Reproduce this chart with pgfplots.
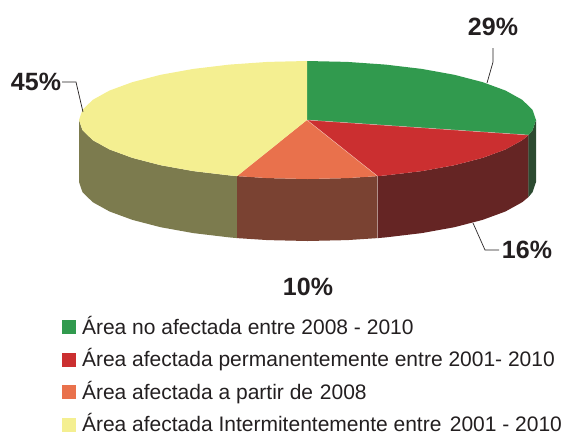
\documentclass[border=0pt]{standalone}
\usepackage{fontspec}
\setmainfont{Liberation Sans}
\usepackage{pgfplots}
\pgfplotsset{compat=1.18}
\definecolor{cG}{HTML}{319A4E}
\definecolor{cR}{HTML}{CB2F30}
\definecolor{cO}{HTML}{E9714C}
\definecolor{cY}{HTML}{F4EF91}
\definecolor{wG}{HTML}{2C4A30}
\definecolor{wR}{HTML}{652524}
\definecolor{wO}{HTML}{7A4232}
\definecolor{wY}{HTML}{7C7B4E}
\definecolor{tx}{HTML}{231F20}
\begin{document}
\begin{tikzpicture}
\useasboundingbox (0,0) rectangle (564pt,432pt);
\begin{axis}[
  scale only axis, width=564pt, height=432pt,
  xmin=0, xmax=564, ymin=0, ymax=432, y dir=reverse,
  hide axis, clip=false,
  legend cell align=left,
  legend image code/.code={\fill[#1,draw=none] (0pt,-8.5pt) rectangle (14pt,5.5pt);\path (20pt,0pt);},
  legend style={at={(axis cs:62,316)}, anchor=north west, draw=none, fill=none,
    inner sep=0pt, outer sep=0pt, font=\fontsize{21}{23}\selectfont, text=tx,
    row sep=12.7pt,
    nodes={inner sep=0pt, outer sep=0pt}},
]
% walls
\addplot[forget plot, fill=wY, draw=none] coordinates {(79,120)(82.5,130.2)(92.8,140.2)(109.6,149.5)(132.5,157.9)(160.6,165.2)(193.3,171.1)(229.4,175.4)(237,176.1)(237,238.1)(229.4,237.4)(193.3,233.1)(160.6,227.2)(132.5,219.9)(109.6,211.5)(92.8,202.2)(82.5,192.2)(79,182)} --cycle;
\addplot[forget plot, fill=wO, draw=none] coordinates {(237,176.1)(267.8,178.1)(307.5,179)(347.2,178.1)(377.5,176.1)(377.5,238.1)(347.2,240.1)(307.5,241)(267.8,240.1)(237,238.1)} --cycle;
\addplot[forget plot, fill=wR, draw=none] coordinates {(377.5,176.1)(385.6,175.4)(421.8,171.1)(454.4,165.2)(482.5,157.9)(505.4,149.5)(522.2,140.2)(528.5,135)(528.5,197)(522.2,202.2)(505.4,211.5)(482.5,219.9)(454.4,227.2)(421.8,233.1)(385.6,237.4)(377.5,238.1)} --cycle;
\addplot[forget plot, fill=wG, draw=none] coordinates {(528.5,135)(532.5,130.2)(536,120)(536,182)(532.5,192.2)(528.5,197)} --cycle;
% tops
\addplot[fill=cG, draw=none] coordinates {(307,120)(307,61)(347.2,61.9)(385.6,64.6)(421.8,68.9)(454.4,74.8)(482.5,82.1)(505.4,90.5)(522.2,99.8)(532.5,109.8)(536,120)(532.5,130.2)(528.5,135)} --cycle;
\addlegendentry{Área no afectada entre 2008 - 2010}
\addplot[fill=cR, draw=none] coordinates {(307,120)(528.5,135)(522.2,140.2)(505.4,149.5)(482.5,157.9)(454.4,165.2)(421.8,171.1)(385.6,175.4)(377.5,176.1)} --cycle;
\addlegendentry{Área afectada permanentemente entre 2001- 2010}
\addplot[fill=cO, draw=none] coordinates {(307,120)(377.5,176.1)(347.2,178.1)(307.5,179)(267.8,178.1)(237,176.1)} --cycle;
\addlegendentry{Área afectada a partir de \hspace{1pt}2008}
\addplot[fill=cY, draw=none] coordinates {(307,120)(237,176.1)(229.4,175.4)(193.3,171.1)(160.6,165.2)(132.5,157.9)(109.6,149.5)(92.8,140.2)(82.5,130.2)(79,120)(82.5,109.8)(92.8,99.8)(109.6,90.5)(132.5,82.1)(160.6,74.8)(193.3,68.9)(229.4,64.6)(267.8,61.9)(307,61)} --cycle;
\addlegendentry{Área afectada Intermitentemente entre \hspace{2.5pt}2001 - 2010}
% thin separators
\addplot[forget plot, draw=white, opacity=0.45, line width=0.5pt] coordinates {(528.5,135)(307,120)(377.5,176.1)(377.5,238.1)};
\addplot[forget plot, draw=wG, opacity=0.4, line width=0.5pt] coordinates {(528.5,135)(528.5,197)};
% leaders
\addplot[forget plot, draw=tx, line width=0.7pt] coordinates {(62,82)(76,82)(83,112)};
\addplot[forget plot, draw=tx, line width=0.7pt] coordinates {(493,48)(493,62)(487,83)};
\addplot[forget plot, draw=tx, line width=0.7pt] coordinates {(473,223)(485,250)(499,250)};
\node[font=\fontsize{25}{25}\bfseries\selectfont, text=tx] at (axis cs:493,27) {29\%};
\node[font=\fontsize{25}{25}\bfseries\selectfont, text=tx] at (axis cs:36,82) {45\%};
\node[font=\fontsize{25}{25}\bfseries\selectfont, text=tx] at (axis cs:527,250) {16\%};
\node[font=\fontsize{25}{25}\bfseries\selectfont, text=tx] at (axis cs:308,287) {10\%};
\end{axis}
\end{tikzpicture}
\end{document}
